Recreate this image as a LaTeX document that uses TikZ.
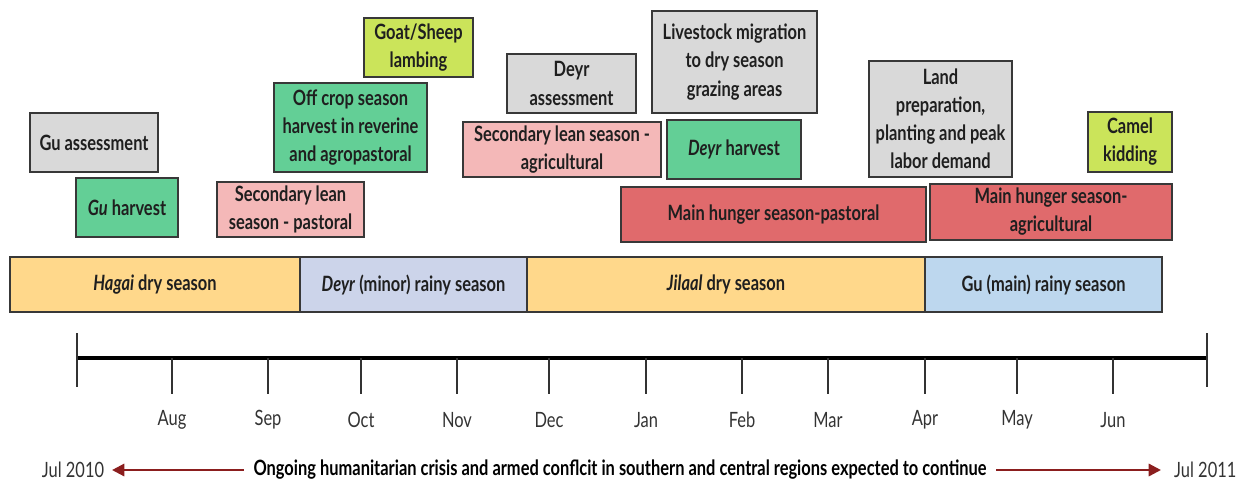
\documentclass[tikz,border=0pt]{standalone}
\usepackage{fontspec}
\setmainfont{Lato}[FakeStretch=0.78]
\usetikzlibrary{positioning,arrows.meta}

\definecolor{boxgray}{HTML}{D9D9D9}
\definecolor{harvestgreen}{HTML}{63CF96}
\definecolor{leanpink}{HTML}{F4B8B8}
\definecolor{hungerred}{HTML}{E06A6C}
\definecolor{birthlime}{HTML}{CBE45A}
\definecolor{dryorange}{HTML}{FFD88B}
\definecolor{deyrblue}{HTML}{CCD4EA}
\definecolor{gublue}{HTML}{BDD7EE}
\definecolor{crisisred}{HTML}{8B1E1E}

\begin{document}
\begin{tikzpicture}[
		font=\fontsize{12}{16}\selectfont\bfseries,
		event/.style={draw=black!78, line width=1pt, align=center, inner sep=1pt, text=black!88},
		season/.style={draw=black!78, line width=1pt, inner sep=0pt, outer sep=0pt, minimum height=1.10cm, text=black!88},
		month/.style={font=\fontsize{12}{16}\selectfont\mdseries, text=black!80},
		crisis arrow/.style={crisisred, line width=1.3pt, -{Triangle[length=7pt, width=7pt]}}
	]
		\useasboundingbox (0,0) rectangle (24.78,-9.72);

		\node[event, fill=boxgray, minimum width=2.56cm, minimum height=1.18cm] (guassess) at (1.88,-2.85) {Gu assessment};
		\node[event, fill=harvestgreen, minimum width=2.04cm, minimum height=1.18cm] (guharvest) at (2.54,-4.15) {\textit{Gu} harvest};
		\node[event, fill=leanpink, minimum width=2.94cm, minimum height=1.10cm] (leanpast) at (5.81,-4.19) {Secondary lean\\season - pastoral};
		\node[event, fill=harvestgreen, minimum width=3.06cm, minimum height=1.78cm] (offcrop) at (7.01,-2.55) {Off crop season\\harvest in reverine\\and agropastoral};
		\node[event, fill=birthlime, minimum width=2.18cm, minimum height=1.18cm] (lambing) at (8.37,-0.95) {Goat/Sheep\\lambing};
		\node[event, fill=boxgray, minimum width=2.58cm, minimum height=1.18cm] (deyrassess) at (11.43,-1.67) {Deyr\\assessment};
		\node[event, fill=leanpink, minimum width=3.96cm, minimum height=1.10cm] (leanagri) at (11.24,-2.99) {Secondary lean season -\\agricultural};
		\node[event, fill=boxgray, minimum width=3.30cm, minimum height=2.04cm] (migration) at (14.69,-1.24) {Livestock migration\\to dry season\\grazing areas};
		\node[event, fill=harvestgreen, minimum width=2.68cm, minimum height=1.18cm] (deyrharvest) at (14.68,-2.99) {\textit{Deyr} harvest};
		\node[event, fill=hungerred, minimum width=6.10cm, minimum height=1.10cm] (hungerpast) at (15.47,-4.29) {Main hunger season-pastoral};
		\node[event, fill=boxgray, minimum width=2.86cm, minimum height=2.32cm] (landprep) at (18.81,-2.38) {Land\\preparation,\\planting and peak\\labor demand};
		\node[event, fill=birthlime, minimum width=1.68cm, minimum height=1.20cm] (kidding) at (22.60,-2.84) {Camel\\kidding};
		\node[event, fill=hungerred, minimum width=4.84cm, minimum height=1.12cm] (hungeragri) at (21.02,-4.24) {Main hunger season-\\agricultural};

		\node[season, fill=dryorange, minimum width=5.80cm] (hagai) at (3.10,-5.69) {\textit{Hagai} dry season};
		\node[season, fill=deyrblue, minimum width=4.54cm, right=0pt of hagai] (deyr) {\textit{Deyr} (minor) rainy season};
		\node[season, fill=dryorange, minimum width=7.96cm, right=0pt of deyr] (jilaal) {\textit{Jilaal} dry season};
		\node[season, fill=gublue, minimum width=4.74cm, right=0pt of jilaal] (gu) {Gu (main) rainy season};

		\draw[black, line width=2.5pt] (1.54,-7.16) -- (24.14,-7.16);
		\draw[black!80, line width=1pt] (1.54,-6.66) -- (1.54,-7.74);
		\draw[black!80, line width=1pt] (24.14,-6.66) -- (24.14,-7.74);
		\foreach \x/\m in {3.44/Aug, 5.36/Sep, 7.22/Oct, 9.14/Nov, 10.98/Dec, 12.92/Jan, 14.84/Feb, 16.56/Mar, 18.50/Apr, 20.34/May, 22.26/Jun} {
			\draw[black!80, line width=1pt] (\x,-7.16) -- (\x,-7.88);
			\node[month] (m\m) at (\x,-8.40) {\m};
		}

		\node[month] (jul10) at (1.46,-9.40) {Jul 2010};
		\node[month, anchor=west] (jul11) at (23.36,-9.40) {Jul 2011};
		\node (crisis) at (12.40,-9.40) {Ongoing humanitarian crisis and armed conflcit in southern and central regions expected to continue};
		\draw[crisis arrow, shorten <=2pt, shorten >=1pt] (crisis) -- (jul10);
		\draw[crisis arrow, shorten <=2pt, shorten >=4pt] (crisis) -- (jul11);
	\end{tikzpicture}
\end{document}
